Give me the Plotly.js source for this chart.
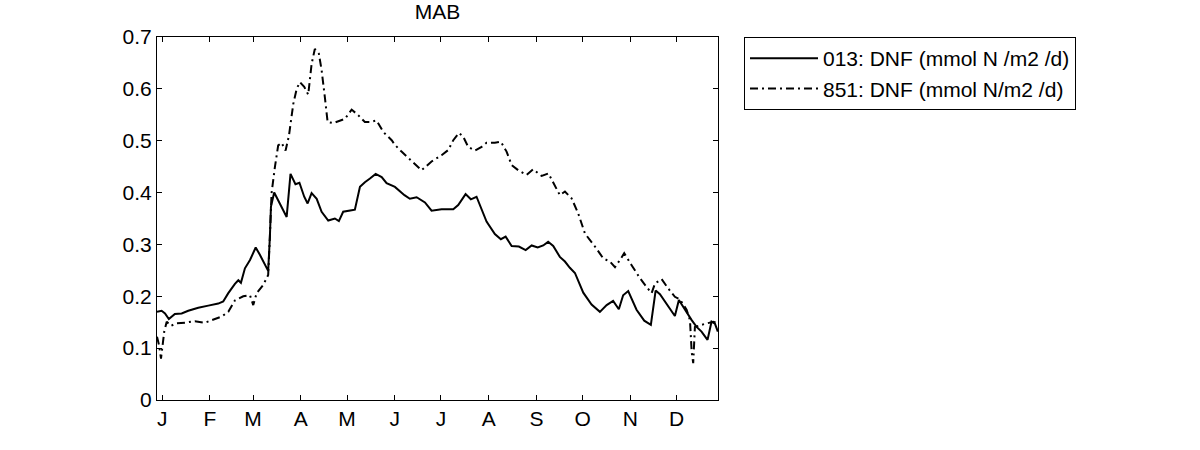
<!DOCTYPE html>
<html>
<head>
<meta charset="utf-8">
<script src="https://cdn.plot.ly/plotly-3.0.1.min.js"></script>
<style>html,body{margin:0;padding:0;background:#fff;}#chart{width:1200px;height:450px;}</style>
</head>
<body>
<div id="chart"></div>
<script>
// Month tick labels and their day-of-year positions (first day of each month)
var monthLabels = ['J','F','M','A','M','J','J','A','S','O','N','D'];
var monthDays = [1,32,60,91,121,152,182,213,244,274,305,335];

// Series 013: DNF (mmol N /m2 /d) — day of year and value
var day013 = [-2.4,0.6,2.8,5.3,9.2,13.6,17.9,24.4,30.9,37.4,40.6,43.9,48.2,50.4,52.1,54.7,58.0,61.7,64.4,69.8,70.9,71.6,73.7,77.4,81.8,84.3,87.5,90.1,93.2,95.4,98.0,101.3,104.5,108.8,113.1,115.7,118.5,124.0,126.1,129.4,132.6,135.9,139.6,143.5,146.7,152.1,158.3,161.8,166.2,171.6,175.9,182.4,190.0,193.2,198.0,201.4,205.1,211.6,217.0,220.9,224.0,227.9,232.6,237.0,240.9,244.8,248.4,251.6,254.9,259.2,262.5,265.7,269.0,274.4,279.8,285.2,289.6,293.8,297.5,300.3,303.6,309.0,314.0,318.3,321.4,324.2,328.5,333.9,336.5,340.4,344.8,348.0,351.2,355.1,357.7,359.9,361.8];
var val013 = [0.170,0.172,0.167,0.156,0.166,0.167,0.172,0.178,0.182,0.186,0.190,0.206,0.224,0.231,0.226,0.254,0.270,0.294,0.280,0.249,0.314,0.373,0.400,0.379,0.353,0.436,0.416,0.419,0.392,0.379,0.399,0.388,0.363,0.346,0.350,0.345,0.363,0.366,0.367,0.411,0.420,0.427,0.436,0.430,0.418,0.411,0.395,0.388,0.391,0.381,0.365,0.368,0.368,0.376,0.397,0.387,0.392,0.344,0.320,0.310,0.315,0.297,0.296,0.289,0.298,0.294,0.298,0.305,0.297,0.276,0.267,0.255,0.245,0.207,0.184,0.170,0.183,0.191,0.175,0.202,0.210,0.174,0.153,0.145,0.211,0.204,0.185,0.162,0.193,0.174,0.154,0.141,0.132,0.116,0.151,0.147,0.132];

// Series 851: DNF (mmol N/m2 /d) — day of year and value
var day851 = [-2.4,-1.1,0.2,2.3,3.9,6.6,10.4,15.7,22.2,28.7,33.1,39.6,43.9,48.2,53.6,58.0,60.1,62.3,66.6,69.8,70.9,72.0,74.2,76.3,78.5,81.1,83.3,86.1,88.3,90.4,93.2,95.8,98.0,100.1,102.7,104.5,106.6,108.4,112.0,115.7,119.6,124.0,128.3,132.6,135.9,140.2,144.5,150.0,152.1,156.4,161.8,169.4,175.9,182.4,186.7,190.0,193.7,196.4,199.7,204.0,208.4,211.6,217.0,220.9,224.6,227.9,232.2,237.6,241.9,247.4,251.8,255.6,259.2,262.5,266.8,271.1,275.5,282.0,287.4,291.7,295.0,298.2,301.0,305.8,311.2,315.5,318.8,321.0,325.3,329.6,333.9,337.2,341.5,343.7,344.8,345.8,346.9,351.2,355.5,358.8,361.8];
var val851 = [0.122,0.106,0.080,0.132,0.151,0.143,0.148,0.149,0.152,0.149,0.154,0.161,0.170,0.192,0.200,0.202,0.183,0.206,0.222,0.241,0.315,0.399,0.450,0.491,0.496,0.481,0.510,0.571,0.600,0.613,0.604,0.589,0.648,0.677,0.668,0.636,0.584,0.536,0.534,0.538,0.542,0.560,0.549,0.536,0.536,0.539,0.517,0.501,0.492,0.479,0.464,0.443,0.460,0.472,0.482,0.501,0.515,0.508,0.488,0.481,0.488,0.496,0.496,0.498,0.479,0.453,0.443,0.434,0.445,0.432,0.437,0.415,0.395,0.402,0.389,0.360,0.321,0.296,0.273,0.267,0.256,0.270,0.283,0.260,0.235,0.218,0.206,0.225,0.233,0.215,0.199,0.194,0.174,0.154,0.093,0.071,0.141,0.145,0.148,0.151,0.148];

var seriesNames = ['013: DNF (mmol N /m2 /d)', '851: DNF (mmol N/m2 /d)'];
var yTicks = [0,0.1,0.2,0.3,0.4,0.5,0.6,0.7];
var yTickText = ['0','0.1','0.2','0.3','0.4','0.5','0.6','0.7'];

var FONT = 'Liberation Sans, Arial, sans-serif';

var traces = [
  {x: day013, y: val013, name: seriesNames[0], type: 'scatter', mode: 'lines',
   line: {color: '#000', width: 2}},
  {x: day851, y: val851, name: seriesNames[1], type: 'scatter', mode: 'lines',
   line: {color: '#000', width: 2, dash: '8px,4px,2px,4px'}}
];

var axisCommon = {
  showgrid: false, zeroline: false, showline: true, linecolor: '#000', linewidth: 1,
  mirror: 'ticks', ticks: 'inside', ticklen: 5, tickcolor: '#000', tickwidth: 1,
  tickfont: {family: FONT, size: 21, color: '#000'}
};

var layout = {
  width: 1200, height: 450,
  margin: {l: 157, r: 482, t: 37, b: 50, pad: 0},
  paper_bgcolor: '#fff', plot_bgcolor: '#fff',
  title: {text: 'MAB', font: {family: FONT, size: 21, color: '#000'},
          x: 0.5, xref: 'paper', y: 1 - 12/450, yref: 'container', yanchor: 'middle'},
  xaxis: Object.assign({}, axisCommon, {
    range: [-2.4, 361.9], tickmode: 'array', tickvals: monthDays, ticktext: monthLabels
  }),
  yaxis: Object.assign({}, axisCommon, {
    range: [0, 0.7], tickmode: 'array', tickvals: yTicks, ticktext: yTickText
  }),
  showlegend: true,
  legend: {x: (744-157)/561, xanchor: 'left', y: 1, yanchor: 'top',
           bordercolor: '#000', borderwidth: 1, bgcolor: '#fff',
           font: {family: FONT, size: 21, color: '#000'}, itemwidth: 68,
           tracegroupgap: 0}
};

Plotly.newPlot('chart', traces, layout, {displayModeBar: false, staticPlot: true});
</script>
</body>
</html>
